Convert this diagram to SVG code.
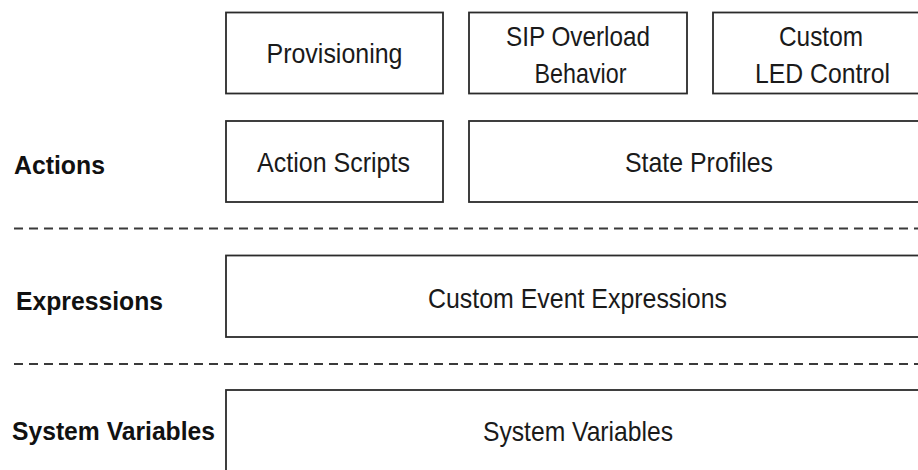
<svg xmlns="http://www.w3.org/2000/svg" width="918" height="470" viewBox="0 0 918 470">
<style>
.box{fill:#fff;stroke:#2b2b2b;stroke-width:1.8}
.t{font-family:"Liberation Sans",Arial,sans-serif;font-size:28px;fill:#1a1a1a;text-anchor:middle}
.lbl{font-family:"Liberation Sans",Arial,sans-serif;font-size:25px;font-weight:bold;fill:#111}
.sep{stroke:#3a3a3a;stroke-width:2;stroke-dasharray:9 6;fill:none}
</style>
<rect width="918" height="470" fill="#fff"/>
<g id="separators">
<line class="sep" x1="14" y1="228.5" x2="918" y2="228.5"/>
<line class="sep" x1="14" y1="364" x2="918" y2="364"/>
</g>
<g id="label-actions"><text class="lbl" x="14" y="174" textLength="91" lengthAdjust="spacingAndGlyphs">Actions</text></g>
<g id="label-expressions"><text class="lbl" x="16" y="310" textLength="147" lengthAdjust="spacingAndGlyphs">Expressions</text></g>
<g id="label-sysvars"><text class="lbl" x="12" y="440" textLength="203" lengthAdjust="spacingAndGlyphs">System Variables</text></g>
<g id="provisioning">
<rect class="box" x="226" y="12.5" width="217" height="81"/>
<text class="t" x="334.5" y="63" textLength="136" lengthAdjust="spacingAndGlyphs">Provisioning</text>
</g>
<g id="sip-overload">
<rect class="box" x="469" y="12.5" width="218" height="81"/>
<text class="t" x="578" y="46" textLength="144" lengthAdjust="spacingAndGlyphs">SIP Overload</text>
<text class="t" x="580.5" y="83" textLength="92" lengthAdjust="spacingAndGlyphs">Behavior</text>
</g>
<g id="custom-led">
<rect class="box" x="713" y="12.5" width="218" height="81"/>
<text class="t" x="821" y="46" textLength="84" lengthAdjust="spacingAndGlyphs">Custom</text>
<text class="t" x="822.5" y="83" textLength="135" lengthAdjust="spacingAndGlyphs">LED Control</text>
</g>
<g id="action-scripts">
<rect class="box" x="226" y="121" width="217" height="81"/>
<text class="t" x="333.5" y="172" textLength="153" lengthAdjust="spacingAndGlyphs">Action Scripts</text>
</g>
<g id="state-profiles">
<rect class="box" x="469" y="121" width="462" height="81"/>
<text class="t" x="699" y="172" textLength="148" lengthAdjust="spacingAndGlyphs">State Profiles</text>
</g>
<g id="custom-event-expressions">
<rect class="box" x="226" y="255.5" width="705" height="81.5"/>
<text class="t" x="577.5" y="308" textLength="299" lengthAdjust="spacingAndGlyphs">Custom Event Expressions</text>
</g>
<g id="system-variables">
<rect class="box" x="226" y="390" width="705" height="100"/>
<text class="t" x="578" y="441" textLength="190" lengthAdjust="spacingAndGlyphs">System Variables</text>
</g>
</svg>
